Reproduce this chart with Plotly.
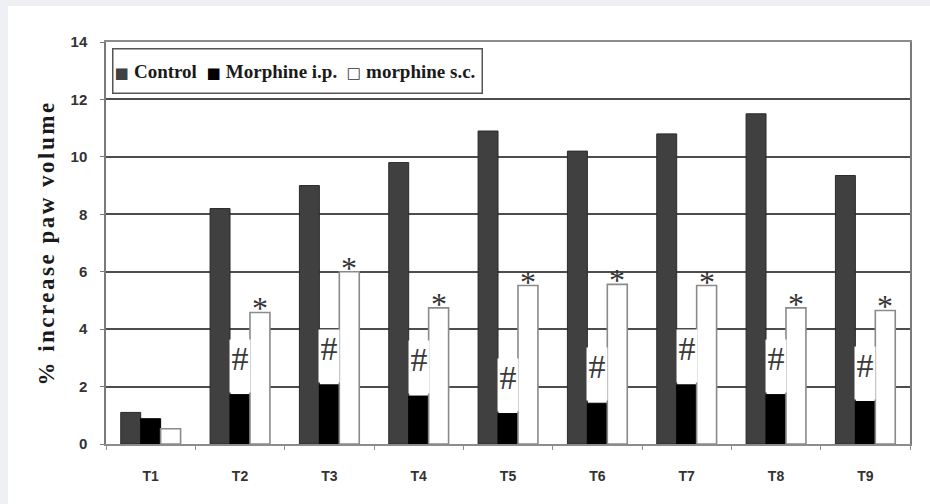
import plotly.graph_objects as go

# Paw volume increase (%) at each time point
time_points = ["T1", "T2", "T3", "T4", "T5", "T6", "T7", "T8", "T9"]
control = [1.1, 8.2, 9.0, 9.8, 10.9, 10.2, 10.8, 11.5, 9.35]
morphine_ip = [0.88, 1.72, 2.06, 1.67, 1.06, 1.42, 2.06, 1.72, 1.48]
morphine_sc = [0.53, 4.58, 6.0, 4.74, 5.52, 5.56, 5.52, 4.74, 4.65]

# significance marks: "#" over morphine i.p., "*" over morphine s.c.
hash_marks = [False, True, True, True, True, True, True, True, True]
star_marks = [False, True, True, True, True, True, True, True, True]

y_ticks = [0, 2, 4, 6, 8, 10, 12, 14]

W, H = 930, 504
ML, MR, MT, MB = 106, 20, 42, 60
plot_w = W - ML - MR
plot_h = H - MT - MB
BARGAP = 0.33
bar_px = plot_w / len(time_points) * (1 - BARGAP) / 3


def px_x(p):
    return (p - ML) / plot_w


def px_y(p):
    return (H - MB - p) / plot_h


fig = go.Figure()
fig.add_bar(name="Control", x=time_points, y=control,
            marker=dict(color="#404040", line=dict(color="#2a2a2a", width=1)))
fig.add_bar(name="Morphine i.p.", x=time_points, y=morphine_ip,
            marker=dict(color="#000000", line=dict(color="#000000", width=1)))
fig.add_bar(name="morphine s.c.", x=time_points, y=morphine_sc,
            marker=dict(color="#ffffff", line=dict(color="#8a8a8a", width=1.6)))

annotations = []
for cat, v, flag in zip(time_points, morphine_ip, hash_marks):
    if flag:
        annotations.append(dict(
            x=cat, y=v, xref="x", yref="y", text="#", showarrow=False,
            xanchor="center", yanchor="bottom", height=52, width=20,
            valign="top", borderpad=0, bgcolor="#ffffff", yshift=2,
            font=dict(family="Liberation Serif", size=34, color="#3a3a3a")))
for cat, v, flag in zip(time_points, morphine_sc, star_marks):
    if flag:
        annotations.append(dict(
            x=cat, y=v, xref="x", yref="y", text="*", showarrow=False,
            xanchor="center", yanchor="bottom", xshift=bar_px, yshift=-16,
            font=dict(family="Liberation Serif", size=32, color="#333333")))

sq = '<span style="font-family:DejaVu Sans;font-size:15px;color:{c}">{g} </span>'
legend_text = (
    sq.format(c="#404040", g="■") + "Control  "
    + sq.format(c="#000000", g="■") + "Morphine i.p.  "
    + sq.format(c="#333333", g="□") + "morphine s.c."
)
annotations.append(dict(
    x=px_x(112), y=px_y(48), xref="paper", yref="paper",
    xanchor="left", yanchor="top", text=legend_text, showarrow=False,
    width=366, height=41, align="left", valign="middle", borderpad=1,
    bordercolor="#555555", borderwidth=1.5, bgcolor="#ffffff",
    font=dict(family="Liberation Serif", size=19, color="#1a1a1a", weight="bold")))

shapes = [
    # page border strips
    dict(type="rect", xref="paper", yref="paper", x0=px_x(0), x1=px_x(W),
         y0=px_y(6), y1=px_y(0), fillcolor="#eef0f3", line=dict(width=0), layer="below"),
    dict(type="rect", xref="paper", yref="paper", x0=px_x(0), x1=px_x(8),
         y0=px_y(H), y1=px_y(0), fillcolor="#eef0f3", line=dict(width=0), layer="below"),
]

fig.update_layout(
    width=W, height=H,
    margin=dict(l=ML, r=MR, t=MT, b=MB, autoexpand=False),
    paper_bgcolor="#ffffff", plot_bgcolor="#ffffff",
    barmode="group", bargap=BARGAP, bargroupgap=0,
    showlegend=False,
    annotations=annotations, shapes=shapes,
)
fig.update_xaxes(
    showline=True, linecolor="#8c8c8c", linewidth=1.5, mirror=True,
    ticks="outside", tickson="boundaries", ticklen=4, tickcolor="#8c8c8c",
    tickfont=dict(family="Liberation Sans", size=14, color="#333333", weight="bold"),
    ticklabelstandoff=18, showgrid=False,
)
fig.update_yaxes(
    range=[0, 14], tickvals=y_ticks,
    showline=True, linecolor="#7a7a7a", linewidth=1.5, mirror=True,
    ticks="outside", ticklen=4, tickcolor="#7a7a7a",
    tickfont=dict(family="Liberation Sans", size=15, color="#333333", weight="bold"),
    ticklabelstandoff=10,
    showgrid=True, gridcolor="#4d4d4d", gridwidth=1.5, zeroline=False,
    title=dict(text='<span style="letter-spacing:2.5px">% increase paw volume</span>',
               standoff=10,
               font=dict(family="Liberation Serif", size=23, color="#1a1a1a", weight="bold")),
)

fig.write_html("out.html")
